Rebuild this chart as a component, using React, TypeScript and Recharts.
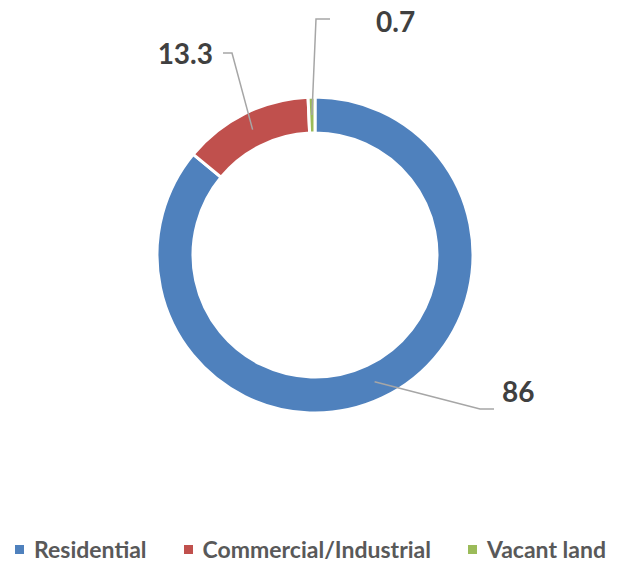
import React from 'react';
import { PieChart, Pie, Cell, Legend } from 'recharts';

const categories = ['Residential', 'Commercial/Industrial', 'Vacant land'];
const shares = [86, 13.3, 0.7];
const colors = ['#4F81BD', '#C0504D', '#9BBB59'];

const chartData = categories.map((name, i) => ({ name, value: shares[i], color: colors[i] }));

// Excel-style leader lines: elbow point and text anchor, relative to the pie centre
const LABEL_LAYOUT = [
  { elbow: [165, 154], tail: 14, text: [187, 147], anchor: 'start' },
  { elbow: [-83, -202], tail: -9, text: [-102, -191], anchor: 'end' },
  { elbow: [1, -236], tail: 14, text: [61, -223], anchor: 'start' },
];

const RAD = Math.PI / 180;
const FONT = "Lato, 'Open Sans', sans-serif";

const renderLabel = (props: any) => {
  const { cx, cy, midAngle, innerRadius, outerRadius, index, value } = props;
  const layout = LABEL_LAYOUT[index];
  const r = (innerRadius + outerRadius) / 2;
  const sx = cx + r * Math.cos(-midAngle * RAD);
  const sy = cy + r * Math.sin(-midAngle * RAD);
  const ex = cx + layout.elbow[0];
  const ey = cy + layout.elbow[1];
  return (
    <g>
      <polyline
        points={`${sx},${sy} ${ex},${ey} ${ex + layout.tail},${ey}`}
        fill="none"
        stroke="#A6A6A6"
        strokeWidth={1.5}
      />
      <text
        x={cx + layout.text[0]}
        y={cy + layout.text[1]}
        textAnchor={layout.anchor}
        fill="#404040"
        fontSize={28}
        fontWeight="bold"
        fontFamily={FONT}
      >
        {value}
      </text>
    </g>
  );
};

const renderLegend = () => (
  <div
    style={{
      display: 'flex',
      justifyContent: 'center',
      alignItems: 'center',
      gap: 37,
      fontFamily: FONT,
      fontWeight: 'bold',
      fontSize: 23,
      color: '#595959',
    }}
  >
    {chartData.map((d) => (
      <div key={d.name} style={{ display: 'flex', alignItems: 'center' }}>
        <span style={{ width: 9, height: 9, background: d.color, marginRight: 10, display: 'inline-block' }} />
        <span>{d.name}</span>
      </div>
    ))}
  </div>
);

const App: React.FC = () => {
  return (
    <div style={{ position: 'absolute', left: 0, top: 0, width: 621, height: 564, background: '#fff' }}>
      <PieChart width={621} height={564} margin={{ top: 0, right: 0, bottom: 0, left: 0 }}>
        <Pie
          data={chartData}
          dataKey="value"
          cx={315}
          cy={255}
          innerRadius={122}
          outerRadius={158}
          startAngle={90}
          endAngle={-270}
          stroke="#fff"
          strokeWidth={3}
          label={renderLabel}
          labelLine={false}
          isAnimationActive={false}
        >
          {chartData.map((entry, index) => (
            <Cell key={`cell-${index}`} fill={entry.color} />
          ))}
        </Pie>
        <Legend
          content={renderLegend}
          wrapperStyle={{ position: 'absolute', top: 535, left: 0, width: 621 }}
        />
      </PieChart>
    </div>
  );
};

export default App;
